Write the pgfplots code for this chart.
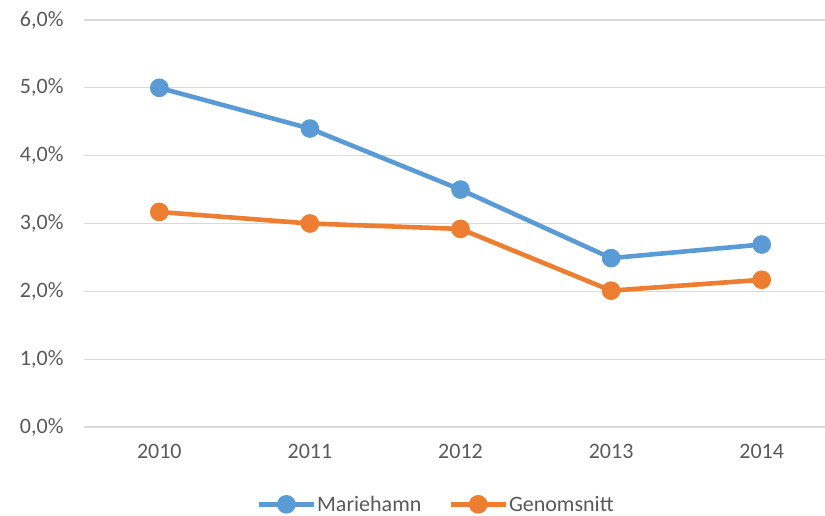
\documentclass[border=0pt]{standalone}
\usepackage{pgfplots}
\pgfplotsset{compat=1.18}
\usepackage{fontspec}
\setmainfont{Carlito}
\definecolor{cblue}{HTML}{5B9BD5}
\definecolor{corange}{HTML}{ED7D31}
\definecolor{cgrid}{HTML}{D9D9D9}
\definecolor{ctext}{HTML}{595959}
\begin{document}
\begin{tikzpicture}
\path[use as bounding box] (0,0) rectangle (825pt,516pt);
\begin{axis}[
  at={(84pt,89pt)}, anchor=south west,
  scale only axis, width=753pt, height=407pt,
  xmin=-0.5, xmax=4.5, ymin=0, ymax=6,
  xtick={0,1,2,3,4}, xticklabels={2010,2011,2012,2013,2014},
  ytick={0,1,2,3,4,5,6},
  yticklabels={{0,0\%},{1,0\%},{2,0\%},{3,0\%},{4,0\%},{5,0\%},{6,0\%}},
  axis x line*=bottom, axis y line*=left,
  x axis line style={draw=cgrid, line width=1.2pt, -},
  y axis line style={draw=none},
  ymajorgrids, grid style={cgrid, line width=1.2pt},
  major tick length=0pt,
  tick label style={font=\fontsize{22}{26}\selectfont, text=ctext},
  yticklabel style={xshift=-17pt},
  xticklabel style={yshift=-14pt},
  legend style={at={(0.467,-0.19)}, anchor=center, draw=none, legend columns=2,
    font=\fontsize{22}{26}\selectfont, text=ctext, inner sep=0pt,
    /tikz/every odd column/.append style={column sep=0pt},
    /tikz/every even column/.append style={column sep=26pt},
    nodes={inner sep=1pt}},
  legend image code/.code={
    \draw[#1, mark=none] (0pt,0pt) -- (55pt,0pt);
    \fill[#1] (27.5pt,0pt) circle (7pt);
  },
]
\addplot[cblue, line width=4.6pt, mark=*, mark size=7pt] coordinates {(0,5.0) (1,4.4) (2,3.5) (3,2.49) (4,2.69)};
\addlegendentry{Mariehamn}
\addplot[corange, line width=4.6pt, mark=*, mark size=7pt] coordinates {(0,3.17) (1,3.0) (2,2.92) (3,2.01) (4,2.17)};
\addlegendentry{Genomsnitt}
\end{axis}
\end{tikzpicture}
\end{document}
